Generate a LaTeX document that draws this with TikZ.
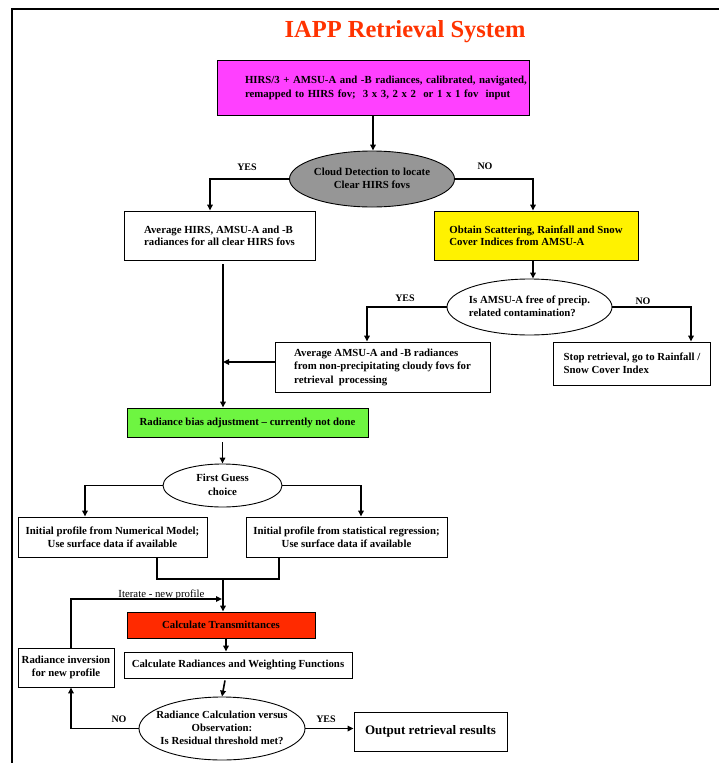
\documentclass[tikz,border=0pt]{standalone}
\usepackage{fontspec}
\setmainfont{Liberation Serif}
\usetikzlibrary{arrows.meta,shapes.geometric,calc}
\definecolor{magC}{RGB}{255,64,255}
\definecolor{greyC}{RGB}{150,150,150}
\definecolor{greenC}{RGB}{110,245,65}
\definecolor{redC}{RGB}{255,42,0}
\definecolor{titleRed}{RGB}{255,51,0}
\newcommand{\zwc}[1]{\makebox[0pt]{\begin{tabular}{@{}c@{}}#1\end{tabular}}}
\newcommand{\zwl}[1]{\makebox[0pt]{\begin{tabular}{@{}l@{}}#1\end{tabular}}}
\begin{document}
\begin{tikzpicture}[x=1pt,y=-1pt,
  every node/.style={font=\fontsize{10.8}{13}\selectfont\bfseries},
  box/.style={draw=black,line width=0.9pt,rectangle,inner sep=2pt,align=center},
  ell/.style={draw=black,line width=0.9pt,ellipse,inner sep=0pt},
  conn/.style={line width=1.6pt},
  arr/.style={conn,-{Triangle[length=6pt,width=5.5pt]}},
  lbl/.style={font=\fontsize{10}{12}\selectfont\bfseries,inner sep=0pt}]
\useasboundingbox (0,0) rectangle (719,763);
\fill[white] (0,0) rectangle (719,763);
\draw[line width=2pt] (12,763) -- (12,9) -- (719,9);

\node[font=\fontsize{24.5}{28}\selectfont\bfseries,text=titleRed,inner sep=0pt] (title) at (405,32) {IAPP Retrieval System};

\node[box,fill=magC,text width=256pt,inner xsep=28pt,minimum height=55pt,align=left,font=\fontsize{10.8}{14}\selectfont\bfseries] (inp) at (373,87.5)
  {\mbox{HIRS/3 + AMSU-A and -B radiances, calibrated, navigated,}\\\mbox{remapped to HIRS fov;\ \ 3 x 3, 2 x 2\ \ or 1 x 1 fov\ \ input}};

\node[ell,fill=greyC,minimum width=165pt,minimum height=56pt] (cloud) at (372,179)
  {\zwc{Cloud Detection to locate\\Clear HIRS fovs}};

\node[box,minimum width=191pt,minimum height=49pt,align=left,font=\fontsize{10.8}{11.8}\selectfont\bfseries] (avg) at (219.5,235.5)
  {Average HIRS, AMSU-A and -B\\radiances for all clear HIRS fovs};

\node[box,fill=yellow,minimum width=204pt,minimum height=49pt,align=left,font=\fontsize{10.8}{11.8}\selectfont\bfseries] (obt) at (536,235.5)
  {Obtain Scattering, Rainfall and Snow\\Cover Indices from AMSU-A};

\node[ell,minimum width=165pt,minimum height=56pt] (free) at (529.5,307)
  {\zwl{Is AMSU-A free of precip.\\related contamination?}};

\node[box,minimum width=215pt,minimum height=50pt,align=left,font=\fontsize{10.8}{13.5}\selectfont\bfseries] (avgamsu) at (382.5,367)
  {Average AMSU-A and -B radiances\\from non-precipitating cloudy fovs for\\retrieval\ \ processing};

\node[box,minimum width=157pt,minimum height=43pt,align=left] (stop) at (632,363.5)
  {Stop retrieval, go to Rainfall /\\Snow Cover Index};

\node[box,fill=greenC,minimum width=241pt,minimum height=29pt] (bias) at (247.5,422.5)
  {Radiance bias adjustment – currently not done};

\node[ell,minimum width=119pt,minimum height=43pt,font=\fontsize{10.8}{14}\selectfont\bfseries] (fg) at (222.5,485.5)
  {\zwc{First Guess\\choice}};

\node[box,minimum width=189pt,minimum height=40pt,inner xsep=1pt] (num) at (112.5,537)
  {Initial profile from Numerical Model;\\Use surface data if available};

\node[box,minimum width=201pt,minimum height=40pt,inner xsep=1pt] (stat) at (346.5,537)
  {Initial profile from statistical regression;\\Use surface data if available};

\node[box,fill=redC,minimum width=188pt,minimum height=26pt] (trans) at (221,625)
  {Calculate Transmittances};

\node[box,minimum width=228pt,minimum height=26pt] (calc) at (238,665)
  {Calculate Radiances and Weighting Functions};

\node[box,minimum width=96pt,minimum height=39pt,inner xsep=1pt] (inv) at (66,667.5)
  {Radiance inversion\\for new profile};

\node[ell,minimum width=166pt,minimum height=63pt] (resid) at (222,728.5)
  {\zwc{Radiance Calculation versus\\Observation:\\Is Residual threshold met?}};

\node[box,minimum width=153pt,minimum height=39pt,font=\fontsize{13}{15}\selectfont\bfseries] (out) at (430.5,731.5)
  {Output retrieval results};

\node[lbl] (yes1) at (247,167) {YES};
\node[lbl] (no1) at (485,166) {NO};
\node[lbl] (yes2) at (405,298) {YES};
\node[lbl] (no2) at (643,301) {NO};
\node[lbl] (no3) at (119,719) {NO};
\node[lbl] (yes3) at (326,719) {YES};
\node[font=\fontsize{10.8}{13}\selectfont\mdseries,inner sep=0pt,anchor=base] (itl) at (161.5,597.5) {Iterate - new profile};

\draw[arr] (inp.south) -- (inp.south |- cloud.north);
\draw[arr] (cloud.west) -| ([xshift=-9.5pt]avg.north);
\draw[arr] (cloud.east) -| ([xshift=-3pt]obt.north);
\coordinate (vtop) at ([shift={(3.5,4)}]avg.south);
\draw[arr] (vtop) -- (vtop |- bias.north);
\draw[arr] ([yshift=5pt]avgamsu.west) -- ([yshift=5pt]avgamsu.west -| vtop);
\draw[arr] ([xshift=-3pt]obt.south) -- ([xshift=-3pt]obt.south |- free.north);
\draw[arr] (free.west) -| ([xshift=-15.5pt]avgamsu.north);
\draw[arr] (free.east) -| ([xshift=59pt]stop.north);
\draw[arr] ([yshift=-5pt]bias.south -| fg.north) -- (fg.north);
\draw[arr] (fg.west) -| ([xshift=-27.5pt]num.north);
\draw[arr] (fg.east) -| ([xshift=14.5pt]stat.north);
\coordinate (j) at (223,579);
\draw[conn] ([xshift=44.5pt]num.south) |- (j) -| ([xshift=-67.5pt]stat.south);
\draw[arr] (j) -- (j |- trans.north);
\coordinate (it) at (222,599);
\draw[arr] ([xshift=5pt]inv.north) |- (it);
\draw[arr] ([xshift=5pt]trans.south) -- ([xshift=5pt]trans.south |- calc.north);
\draw[arr] ([shift={(-13,2)}]calc.south) -- (resid.north);
\draw[arr] (resid.west) -| ([xshift=5pt]inv.south);
\draw[arr] (resid.east) -- (resid.east -| out.west);
\end{tikzpicture}
\end{document}
